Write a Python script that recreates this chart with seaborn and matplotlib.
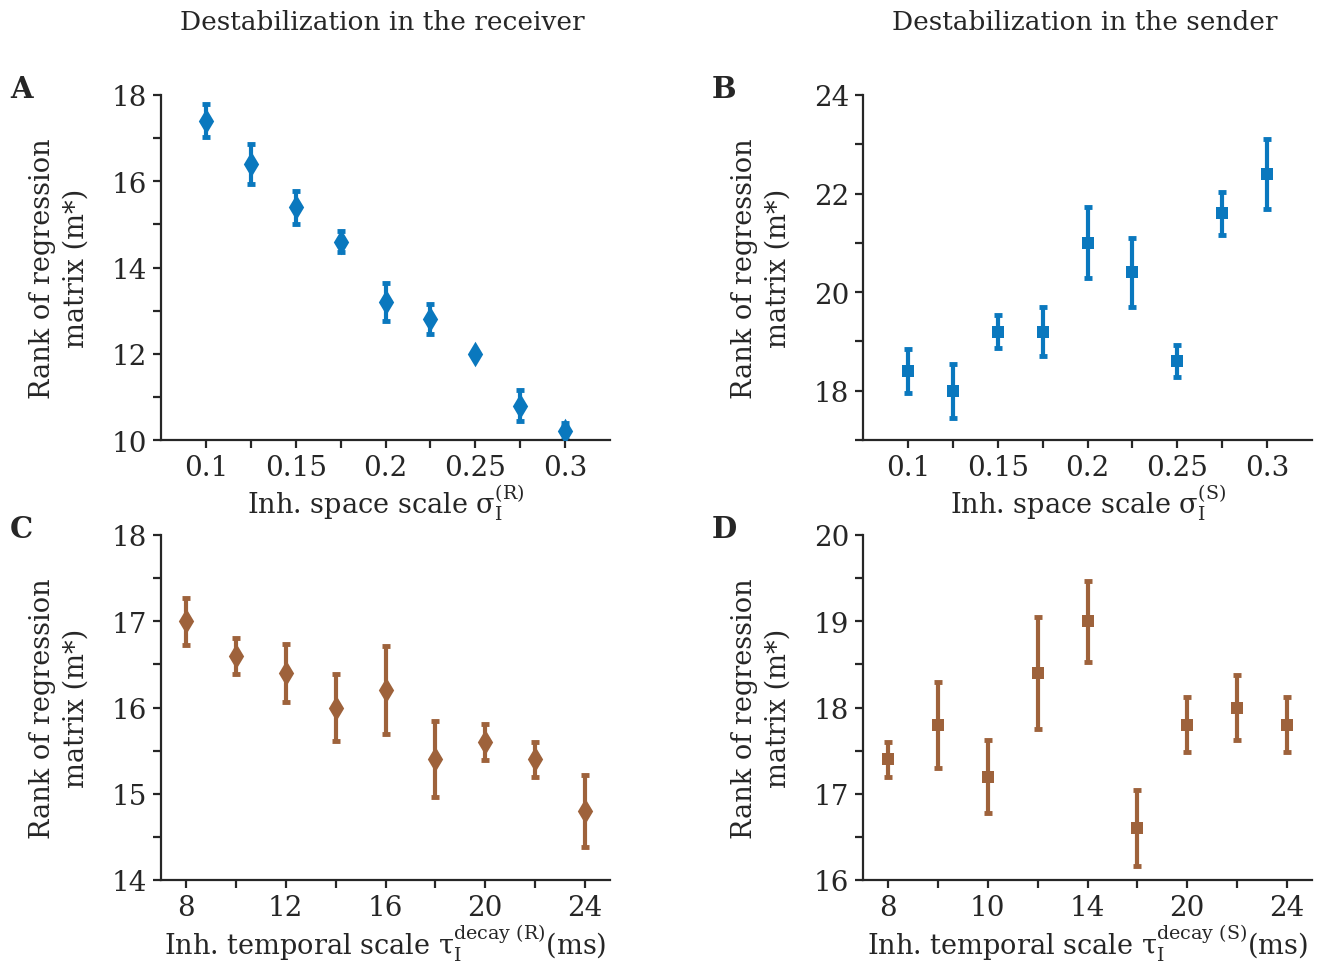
import seaborn as sns
import pandas as pd
import matplotlib.pyplot as plt

sns.set_style("ticks")
plt.rcParams['font.family'] = ['DejaVu Serif']
plt.rcParams['mathtext.fontset'] = 'custom'
plt.rcParams['mathtext.rm'] = 'DejaVu Serif'

# datos
sigma = [0.1, 0.125, 0.15, 0.175, 0.2, 0.225, 0.25, 0.275, 0.3]
tau = [8, 10, 12, 14, 16, 18, 20, 22, 24]

rank_a = [17.4, 16.4, 15.4, 14.6, 13.2, 12.8, 12.0, 10.8, 10.2]
err_a = [0.38, 0.47, 0.38, 0.24, 0.45, 0.35, 0.0, 0.35, 0.2]

rank_b = [18.4, 18.0, 19.2, 19.2, 21.0, 20.4, 18.6, 21.6, 22.4]
err_b = [0.45, 0.55, 0.33, 0.5, 0.72, 0.7, 0.33, 0.44, 0.71]

rank_c = [17.0, 16.6, 16.4, 16.0, 16.2, 15.4, 15.6, 15.4, 14.8]
err_c = [0.27, 0.21, 0.34, 0.39, 0.51, 0.44, 0.21, 0.2, 0.42]

rank_d = [17.4, 17.8, 17.2, 18.4, 19.0, 16.6, 17.8, 18.0, 17.8]
err_d = [0.2, 0.5, 0.42, 0.65, 0.47, 0.44, 0.32, 0.38, 0.32]

sigma_labels = ["0.1", "", "0.15", "", "0.2", "", "0.25", "", "0.3"]
tau_labels_c = ["8", "", "12", "", "16", "", "20", "", "24"]
tau_labels_d = ["8", "", "10", "", "14", "", "20", "", "24"]

azul = "#0A78BE"
marron = "#9E623B"
FS = 20

fig = plt.figure(figsize=(13.25, 9.62), dpi=100)
W, H = 1325, 962


def make_ax(left, top, right, bottom):
    return fig.add_axes([left / W, 1 - bottom / H, (right - left) / W, (bottom - top) / H])


axA = make_ax(161, 96, 610, 441)
axB = make_ax(863, 96, 1312, 441)
axC = make_ax(161, 536, 610, 881)
axD = make_ax(863, 536, 1312, 881)

paneles = [
    (axA, sigma, rank_a, err_a, azul, "d", 13, "A", 90),
    (axB, sigma, rank_b, err_b, azul, "s", 9, "B", 90),
    (axC, tau, rank_c, err_c, marron, "d", 13, "C", 530),
    (axD, tau, rank_d, err_d, marron, "s", 9, "D", 530),
]

for ax, x, y, e, color, marker, ms, letra, ytxt in paneles:
    df = pd.DataFrame({"x": x, "y": y})
    ax.errorbar(x, y, yerr=e, fmt="none", ecolor=color, elinewidth=3,
                capsize=3, capthick=3.5, zorder=2)
    sns.scatterplot(data=df, x="x", y="y", ax=ax, color=color, marker=marker,
                    s=ms ** 2, edgecolor=color, linewidth=0, zorder=3)
    sns.despine(ax=ax)
    for s in ["left", "bottom"]:
        ax.spines[s].set_linewidth(1.6)
        ax.spines[s].set_color("#262626")
    ax.tick_params(direction="out", length=6, width=1.6, color="#262626",
                   labelsize=FS, pad=4)
    ax.set_ylabel("Rank of regression\nmatrix (m*)", fontsize=FS - 0.5, linespacing=1.3)
    ax.yaxis.set_label_coords(-0.16, 0.5)
    x0 = ax.get_position().x0 * W - 151
    fig.text(x0 / W, 1 - ytxt / H, letra, fontsize=FS + 1, fontweight="bold", va="center")

# Panel A
axA.set_xlim(0.075, 0.325)
axA.set_xticks(sigma)
axA.set_xticklabels(sigma_labels)
axA.set_ylim(10, 18)
axA.set_yticks(range(10, 19))
axA.set_yticklabels([str(v) if v % 2 == 0 else "" for v in range(10, 19)])
axA.set_xlabel(r"Inh. space scale σ$_\mathregular{I}^\mathregular{(R)}$", fontsize=FS - 0.5, labelpad=0)

# Panel B
axB.set_xlim(0.075, 0.325)
axB.set_xticks(sigma)
axB.set_xticklabels(sigma_labels)
axB.set_ylim(17, 24)
axB.set_yticks(range(17, 25))
axB.set_yticklabels([str(v) if v % 2 == 0 else "" for v in range(17, 25)])
axB.set_xlabel(r"Inh. space scale σ$_\mathregular{I}^\mathregular{(S)}$", fontsize=FS - 0.5, labelpad=0)

# Panel C
axC.set_xlim(7, 25)
axC.set_xticks(tau)
axC.set_xticklabels(tau_labels_c)
axC.set_ylim(14, 18)
axC.set_yticks([14 + 0.5 * i for i in range(9)])
axC.set_yticklabels([str(14 + i // 2) if i % 2 == 0 else "" for i in range(9)])
axC.set_xlabel(r"Inh. temporal scale τ$_\mathregular{I}^\mathregular{decay\ (R)}$(ms)", fontsize=FS - 0.5, labelpad=0)

# Panel D
axD.set_xlim(7, 25)
axD.set_xticks(tau)
axD.set_xticklabels(tau_labels_d)
axD.set_ylim(16, 20)
axD.set_yticks([16 + 0.5 * i for i in range(9)])
axD.set_yticklabels([str(16 + i // 2) if i % 2 == 0 else "" for i in range(9)])
axD.set_xlabel(r"Inh. temporal scale τ$_\mathregular{I}^\mathregular{decay\ (S)}$(ms)", fontsize=FS - 0.5, labelpad=0)

fig.text(382 / W, 1 - 22 / H, "Destabilization in the receiver", fontsize=FS - 1, ha="center", va="center")
fig.text(1085 / W, 1 - 22 / H, "Destabilization in the sender", fontsize=FS - 1, ha="center", va="center")

plt.savefig("out.png", dpi=100)
